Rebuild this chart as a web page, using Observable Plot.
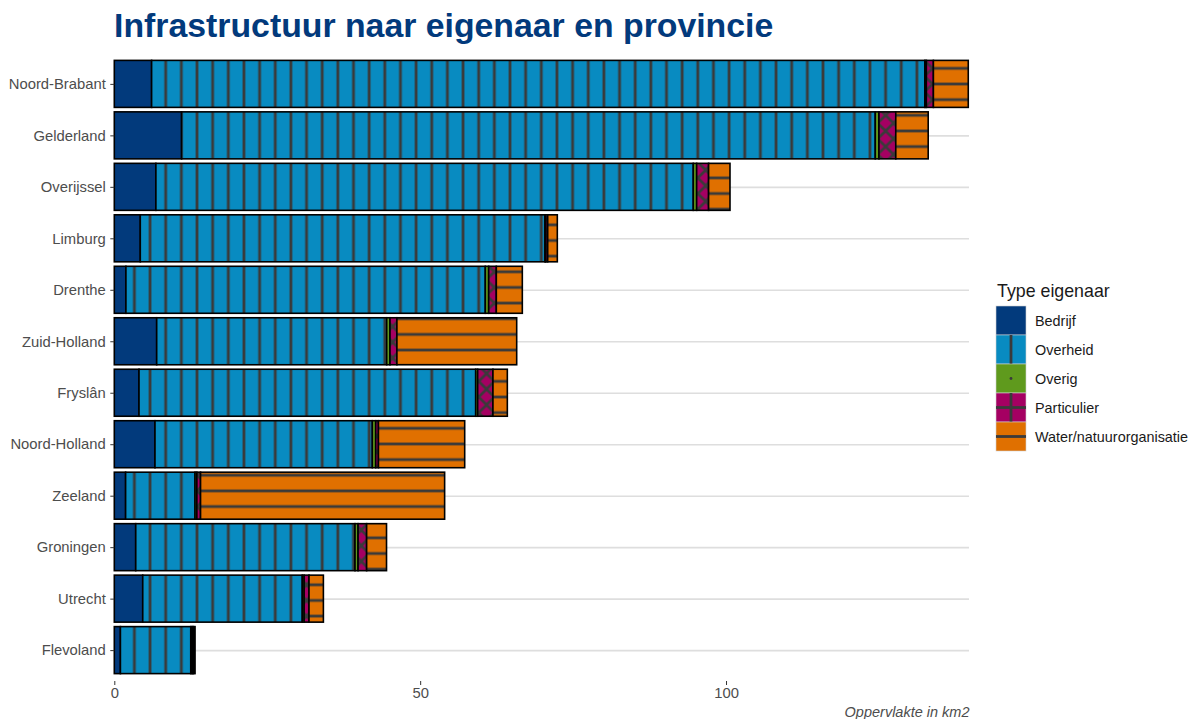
<!DOCTYPE html>
<html>
<head>
<meta charset="utf-8">
<script src="https://cdn.jsdelivr.net/npm/d3@7"></script>
<script src="https://cdn.jsdelivr.net/npm/@observablehq/plot@0.6"></script>
<style>
  html, body { margin: 0; padding: 0; background: #ffffff; }
  body { width: 1193px; height: 719px; position: relative; overflow: hidden; font-family: "Liberation Sans", Arial, sans-serif; }
  #title { position: absolute; left: 114px; top: 6px; font-size: 33.8px; font-weight: bold; color: #023a7c; white-space: nowrap; }
  #chart { position: absolute; left: 0; top: 50px; }
  #legend { position: absolute; left: 990px; top: 270px; }
</style>
</head>
<body>
<svg width="0" height="0" style="position:absolute">
  <defs id="defs"></defs>
</svg>
<div id="title">Infrastructuur naar eigenaar en provincie</div>
<div id="chart"></div>
<div id="legend"></div>
<script>
// ---- data ----
const provinces = ["Noord-Brabant", "Gelderland", "Overijssel", "Limburg", "Drenthe", "Zuid-Holland", "Fryslân", "Noord-Holland", "Zeeland", "Groningen", "Utrecht", "Flevoland"];
const types = ["Bedrijf", "Overheid", "Overig", "Particulier", "Water/natuurorganisatie"];
const bedrijf     = [6.1, 11.0, 6.8, 4.25, 1.9, 6.93, 4.04, 6.65, 1.85, 3.5, 4.65, 1.0];
const overheid    = [126.4, 113.4, 87.85, 66.15, 58.75, 37.6, 55.04, 35.53, 11.35, 35.85, 26.08, 11.5];
const overig      = [0.25, 0.6, 0.55, 0.15, 0.55, 0.54, 0.32, 0.55, 0.3, 0.5, 0.3, 0.25];
const particulier = [1.15, 2.75, 1.95, 0.3, 1.25, 1.13, 2.5, 0.45, 0.6, 1.4, 0.8, 0.2];
const water       = [5.7, 5.3, 3.5, 1.57, 4.25, 19.58, 2.35, 14.1, 39.9, 3.25, 2.35, 0.25];
const xTicks = [0, 50, 100];
const xLabel = "Oppervlakte in km2";
const legendTitle = "Type eigenaar";

// ---- styles ----
const baseColors = ["#023a7c", "#088bc1", "#5f9a1d", "#a50062", "#e07000"];
const patternIds = ["", "pat-overheid", "pat-overig", "pat-particulier", "pat-water"];
const lineColor = "#3a3a3a";
const P = 15.65;          // pattern period
const px0 = 165.7;        // x of a vertical stripe (svg coords)
const py0 = 34;           // y of a horizontal stripe (svg coords)

const series = [bedrijf, overheid, overig, particulier, water];
const table = [];
provinces.forEach((p, i) => {
  types.forEach((t, j) => table.push({province: p, type: t, value: series[j][i]}));
});

// ---- patterns ----
const defs = document.getElementById("defs");
const ox = px0 - P / 2, oy = py0 - P / 2;
const h = P / 2;
defs.innerHTML = `
<pattern id="pat-overheid" patternUnits="userSpaceOnUse" x="${ox}" y="${oy}" width="${P}" height="${P}">
  <rect width="${P}" height="${P}" fill="${baseColors[1]}"/>
  <line x1="${h}" y1="-1" x2="${h}" y2="${P + 1}" stroke="${lineColor}" stroke-width="2.8"/>
</pattern>
<pattern id="pat-overig" patternUnits="userSpaceOnUse" x="${ox}" y="${oy}" width="${P}" height="${P}">
  <rect width="${P}" height="${P}" fill="${baseColors[2]}"/>
  <circle cx="${h}" cy="${h}" r="1.3" fill="${lineColor}"/>
</pattern>
<pattern id="pat-particulier" patternUnits="userSpaceOnUse" x="${ox}" y="${oy}" width="${P}" height="${P}">
  <rect width="${P}" height="${P}" fill="${baseColors[3]}"/>
  <line x1="-2" y1="-2" x2="${P + 2}" y2="${P + 2}" stroke="${lineColor}" stroke-width="2.6"/>
  <line x1="-2" y1="${P + 2}" x2="${P + 2}" y2="-2" stroke="${lineColor}" stroke-width="2.6"/>
</pattern>
<pattern id="pat-water" patternUnits="userSpaceOnUse" x="${ox}" y="${oy}" width="${P}" height="${P}">
  <rect width="${P}" height="${P}" fill="${baseColors[4]}"/>
  <line x1="-1" y1="${h}" x2="${P + 1}" y2="${h}" stroke="${lineColor}" stroke-width="2.8"/>
</pattern>`;

const fills = types.map((t, j) => j === 0 ? baseColors[0] : `url(#${patternIds[j]})`);

// ---- chart ----
const W = 1193, H = 669;
const chart = Plot.plot({
  width: W,
  height: H,
  marginLeft: 114.3,
  marginRight: 224,
  marginTop: 3,
  marginBottom: 38,
  style: {fontFamily: "'Liberation Sans', Arial, sans-serif", fontSize: "14.8px", background: "#ffffff", color: "#4d4d4d"},
  x: {domain: [0, 139.72], round: false},
  y: {domain: provinces, paddingInner: 0.087, paddingOuter: 0.1435, round: false},
  color: {domain: types, range: fills},
  marks: [
    Plot.ruleY(provinces, {y: d => d, stroke: "#dedede", strokeWidth: 1.6}),
    Plot.barX(table, Plot.stackX({x: "value", y: "province", fill: "type", order: types, stroke: "#000000", strokeWidth: 1.6})),
    Plot.axisY({tickSize: 4, tickPadding: 5, label: null, stroke: "#333333", fill: "#4d4d4d", fontSize: 14.8}),
    Plot.axisX({ticks: xTicks, tickSize: 4, tickPadding: 2, label: null, stroke: "#333333", fill: "#4d4d4d", fontSize: 14.8}),
    Plot.text([xLabel], {frameAnchor: "bottom-right", text: d => d, dy: 31, lineAnchor: "middle", textAnchor: "end", fontStyle: "italic", fontSize: 14.5, fill: "#4d4d4d"})
  ]
});
document.getElementById("chart").appendChild(chart);

// ---- legend ----
const kw = 30, kh = 29, k0 = 36;
let leg = `<svg width="203" height="190" style="font-family:'Liberation Sans', Arial, sans-serif">`;
leg += `<text x="7" y="27" font-size="17.8" fill="#1a1a1a">${legendTitle}</text>`;
types.forEach((t, j) => {
  const y = k0 + j * kh, x = 6;
  leg += `<rect x="${x}" y="${y}" width="${kw}" height="${kh}" fill="${baseColors[j]}" stroke="#cfcfcf" stroke-width="0.6"/>`;
  const cx = x + kw / 2, cy = y + kh / 2;
  if (j === 1) leg += `<line x1="${cx}" y1="${y}" x2="${cx}" y2="${y + kh}" stroke="${lineColor}" stroke-width="2.8"/>`;
  if (j === 2) leg += `<circle cx="${cx}" cy="${cy}" r="1.4" fill="${lineColor}"/>`;
  if (j === 3) leg += `<line x1="${cx}" y1="${y}" x2="${cx}" y2="${y + kh}" stroke="${lineColor}" stroke-width="2.8"/><line x1="${x}" y1="${cy}" x2="${x + kw}" y2="${cy}" stroke="${lineColor}" stroke-width="2.8"/>`;
  if (j === 4) leg += `<line x1="${x}" y1="${cy}" x2="${x + kw}" y2="${cy}" stroke="${lineColor}" stroke-width="2.8"/>`;
  leg += `<text x="${x + kw + 9}" y="${cy + 5}" font-size="14.4" fill="#1a1a1a">${t}</text>`;
});
leg += `</svg>`;
document.getElementById("legend").innerHTML = leg;
</script>
</body>
</html>
